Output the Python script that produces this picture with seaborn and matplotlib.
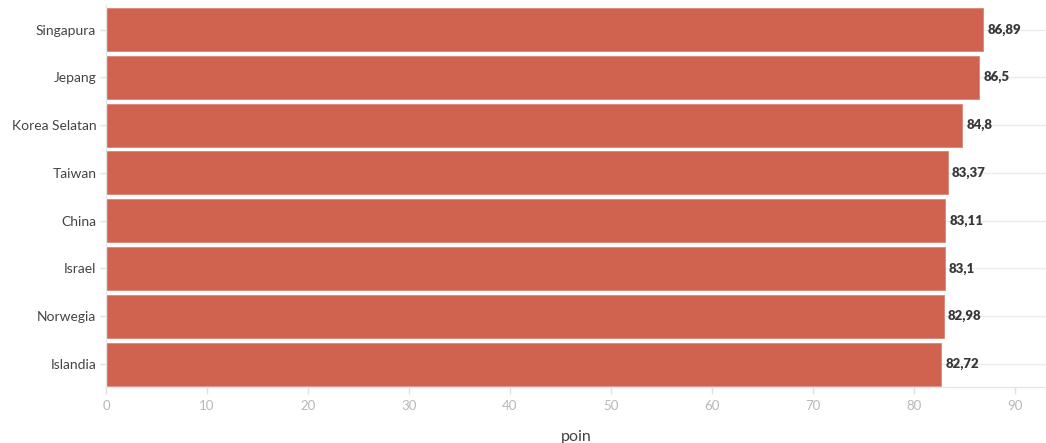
import matplotlib
matplotlib.use("Agg")
import matplotlib.pyplot as plt
import seaborn as sns
import pandas as pd

countries = ["Singapura", "Jepang", "Korea Selatan", "Taiwan", "China", "Israel", "Norwegia", "Islandia"]
values = [86.89, 86.5, 84.8, 83.37, 83.11, 83.1, 82.98, 82.72]
labels = ["86,89", "86,5", "84,8", "83,37", "83,11", "83,1", "82,98", "82,72"]
xticks = [0, 10, 20, 30, 40, 50, 60, 70, 80, 90]

sns.set_theme(style="white")
plt.rcParams["font.family"] = ["Lato", "DejaVu Sans"]

df = pd.DataFrame({"country": countries, "value": values})

fig = plt.figure(figsize=(10.46, 4.43), dpi=100)
ax = fig.add_axes([106/1046, 56/443, 940/1046, 382/443])

for i in range(len(countries)):
    ax.axhline(i, color="#ebebeb", lw=1, zorder=0)

sns.barplot(data=df, x="value", y="country", orient="h", color="#D06350",
            saturation=1, width=0.9, ax=ax, zorder=2,
            edgecolor="#dc8a7c", linewidth=0.7)

for i, (v, lab) in enumerate(zip(values, labels)):
    ax.text(v + 0.4, i, lab, va="center", ha="left", fontsize=9.5,
            fontweight="heavy", color="#383838", zorder=3)

ax.set_xlim(0, 93.1)
ax.set_ylim(7.48, -0.513)
ax.set_xticks(xticks)
ax.set_xticklabels([str(t) for t in xticks])
ax.set_xlabel("poin", fontsize=11.5, color="#444444", labelpad=13)
ax.set_ylabel("")

for s in ["top", "right"]:
    ax.spines[s].set_visible(False)
ax.spines["left"].set_color("#e6e6e6")
ax.spines["bottom"].set_color("#e6e6e6")
ax.spines["left"].set_linewidth(1)
ax.spines["bottom"].set_linewidth(1)

ax.tick_params(axis="x", colors="#e0e0e0", labelcolor="#b8b8b8", labelsize=9.5,
               length=5, width=1, bottom=True, pad=4)
ax.tick_params(axis="y", colors="#e0e0e0", labelcolor="#444444", labelsize=10,
               length=4, width=1, left=True, pad=3)

fig.savefig("out.png", dpi=100)
